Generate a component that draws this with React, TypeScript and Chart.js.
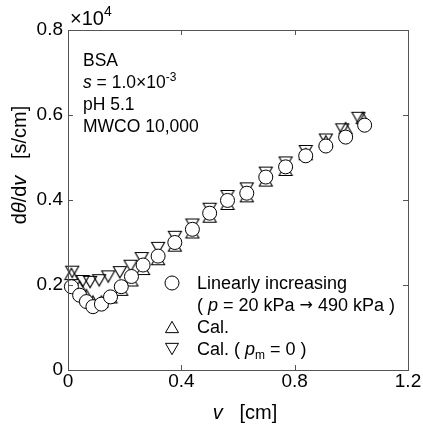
import React, { useEffect, useRef } from 'react';
import { Chart, registerables } from 'chart.js';

Chart.register(...registerables);

// ---- data ----
const xTicks = [0, 0.4, 0.8, 1.2];
const xTickLabels = ['0', '0.4', '0.8', '1.2'];
const yTicks = [0, 0.2, 0.4, 0.6, 0.8];
const yTickLabels = ['0', '0.2', '0.4', '0.6', '0.8'];

// Linearly increasing (experiment), v [cm] and dθ/dv [×10^4 s/cm]
const expV = [0.012, 0.041, 0.065, 0.088, 0.118, 0.150, 0.188, 0.224, 0.265, 0.318, 0.377, 0.439, 0.500, 0.563, 0.631, 0.698, 0.768, 0.839, 0.910, 0.980, 1.047];
const expRate = [0.196, 0.176, 0.161, 0.149, 0.155, 0.172, 0.196, 0.220, 0.247, 0.268, 0.300, 0.331, 0.369, 0.399, 0.416, 0.454, 0.478, 0.504, 0.527, 0.548, 0.576];

// Cal.
const calV = [0.012, 0.041, 0.065, 0.088, 0.118, 0.150, 0.188, 0.224, 0.265, 0.318, 0.377, 0.439, 0.500, 0.563, 0.631, 0.698, 0.768, 0.839, 0.910, 0.980, 1.040];
const calRate = [0.235, 0.205, 0.185, 0.170, 0.170, 0.180, 0.198, 0.220, 0.247, 0.270, 0.302, 0.333, 0.370, 0.400, 0.418, 0.455, 0.480, 0.517, 0.547, 0.578, 0.602];

// Cal. (pm = 0)
const calPm0V = [0.015, 0.052, 0.078, 0.110, 0.142, 0.183, 0.221, 0.260, 0.318, 0.377, 0.439, 0.500, 0.563, 0.631, 0.698, 0.768, 0.839, 0.910, 0.968, 1.025];
const calPm0Rate = [0.222, 0.200, 0.198, 0.202, 0.211, 0.221, 0.236, 0.254, 0.278, 0.304, 0.333, 0.370, 0.400, 0.418, 0.455, 0.479, 0.506, 0.533, 0.557, 0.584];

const FONT = '"Liberation Sans", Arial, sans-serif';
const ARROW_FONT = '"DejaVu Sans", sans-serif';
const FRAME = '#555';

type Seg = { t: string; it?: boolean; sz: number; dy?: number; fam?: string };

function segFont(s: Seg) {
  return `${s.it ? 'italic ' : ''}${s.sz}px ${s.fam || FONT}`;
}

function richWidth(ctx: CanvasRenderingContext2D, segs: Seg[]) {
  let w = 0;
  for (const s of segs) {
    ctx.font = segFont(s);
    w += ctx.measureText(s.t).width;
  }
  return w;
}

function drawRich(ctx: CanvasRenderingContext2D, x: number, y: number, segs: Seg[], align: 'left' | 'center' = 'left') {
  let cx = x;
  if (align === 'center') cx = x - richWidth(ctx, segs) / 2;
  ctx.textAlign = 'left';
  ctx.textBaseline = 'alphabetic';
  ctx.fillStyle = '#000';
  for (const s of segs) {
    ctx.font = segFont(s);
    ctx.fillText(s.t, cx, y + (s.dy || 0));
    cx += ctx.measureText(s.t).width;
  }
}

function makeTri(down: boolean): HTMLCanvasElement {
  const c = document.createElement('canvas');
  c.width = 16;
  c.height = 24;
  const g = c.getContext('2d')!;
  g.strokeStyle = '#000';
  g.lineWidth = 1.1;
  const cx = 8;
  const cy = 12;
  const half = 6.5;
  const h = 11.3;
  g.beginPath();
  if (down) {
    const by = cy - 10 + 0.5;
    g.moveTo(cx - half, by);
    g.lineTo(cx + half, by);
    g.lineTo(cx, by + h);
  } else {
    const by = cy + 10 - 0.5;
    g.moveTo(cx - half, by);
    g.lineTo(cx + half, by);
    g.lineTo(cx, by - h);
  }
  g.closePath();
  g.stroke();
  return c;
}

function legendTri(ctx: CanvasRenderingContext2D, x: number, y: number, down: boolean) {
  const half = 6.5;
  const h = 11.3;
  ctx.beginPath();
  if (down) {
    ctx.moveTo(x - half, y - h / 2);
    ctx.lineTo(x + half, y - h / 2);
    ctx.lineTo(x, y + h / 2);
  } else {
    ctx.moveTo(x - half, y + h / 2);
    ctx.lineTo(x + half, y + h / 2);
    ctx.lineTo(x, y - h / 2);
  }
  ctx.closePath();
  ctx.stroke();
}

const decor = {
  id: 'decor',
  afterDraw(chart: any) {
    const ctx: CanvasRenderingContext2D = chart.ctx;
    const { left, right, top, bottom } = chart.chartArea;
    const xs = chart.scales.x;
    const ys = chart.scales.y;
    ctx.save();
    // frame
    ctx.strokeStyle = FRAME;
    ctx.lineWidth = 1;
    ctx.strokeRect(Math.round(left) + 0.5, Math.round(top) + 0.5, Math.round(right - left), Math.round(bottom - top));
    // inner ticks
    const tl = 5;
    ctx.beginPath();
    xTicks.forEach((v, i) => {
      if (i === 0 || i === xTicks.length - 1) return;
      const px = Math.round(xs.getPixelForValue(v)) + 0.5;
      ctx.moveTo(px, bottom);
      ctx.lineTo(px, bottom - tl);
      ctx.moveTo(px, top);
      ctx.lineTo(px, top + tl);
    });
    yTicks.forEach((v, i) => {
      if (i === 0 || i === yTicks.length - 1) return;
      const py = Math.round(ys.getPixelForValue(v)) + 0.5;
      ctx.moveTo(left, py);
      ctx.lineTo(left + tl, py);
      ctx.moveTo(right, py);
      ctx.lineTo(right - tl, py);
    });
    ctx.stroke();

    // ×10^4
    drawRich(ctx, 70, 25, [
      { t: '×10', sz: 20 },
      { t: '4', sz: 14, dy: -9 },
    ]);

    // condition annotation
    const ax = 83;
    drawRich(ctx, ax, 66, [{ t: 'BSA', sz: 17.5 }]);
    drawRich(ctx, ax, 88, [
      { t: 's', it: true, sz: 17.5 },
      { t: ' = 1.0×10', sz: 17.5 },
      { t: '-3', sz: 12, dy: -7 },
    ]);
    drawRich(ctx, ax, 110, [{ t: 'pH 5.1', sz: 17.5 }]);
    drawRich(ctx, ax, 132, [{ t: 'MWCO 10,000', sz: 17.5 }]);

    // legend
    const mx = 172;
    const tx = 197;
    ctx.strokeStyle = '#000';
    ctx.lineWidth = 1;
    ctx.fillStyle = '#fff';
    ctx.beginPath();
    ctx.arc(mx, 283, 7, 0, Math.PI * 2);
    ctx.fill();
    ctx.stroke();
    legendTri(ctx, mx, 327, false);
    legendTri(ctx, mx, 349, true);
    drawRich(ctx, tx, 289, [{ t: 'Linearly increasing', sz: 18 }]);
    drawRich(ctx, tx, 311, [
      { t: '( ', sz: 18 },
      { t: 'p', it: true, sz: 18 },
      { t: ' = 20 kPa ', sz: 18 },
      { t: '\u2192', sz: 16, fam: ARROW_FONT, dy: -1 },
      { t: ' 490 kPa )', sz: 18 },
    ]);
    drawRich(ctx, tx, 333, [{ t: 'Cal.', sz: 18 }]);
    drawRich(ctx, tx, 355, [
      { t: 'Cal. ( ', sz: 18 },
      { t: 'p', it: true, sz: 18 },
      { t: 'm', sz: 12, dy: 4 },
      { t: ' = 0 )', sz: 18 },
    ]);

    // x axis title
    drawRich(ctx, 245, 419, [
      { t: 'v', it: true, sz: 20 },
      { t: '   [cm]', sz: 20 },
    ], 'center');

    // y axis title (rotated)
    ctx.save();
    ctx.translate(26, 165);
    ctx.rotate(-Math.PI / 2);
    drawRich(ctx, 0, 0, [
      { t: 'd', sz: 20 },
      { t: 'θ', it: true, sz: 20 },
      { t: '/d', sz: 20 },
      { t: 'v', it: true, sz: 20 },
      { t: '   [s/cm]', sz: 20 },
    ], 'center');
    ctx.restore();

    ctx.restore();
  },
};

export default function App() {
  const ref = useRef<HTMLCanvasElement>(null);
  useEffect(() => {
    const canvas = ref.current!;
    const down = makeTri(true);
    const up = makeTri(false);
    const chart = new Chart(canvas, {
      type: 'scatter',
      data: {
        datasets: [
          {
            label: 'Linearly increasing',
            data: expV.map((v, i) => ({ x: v, y: expRate[i] })),
            pointStyle: 'circle',
            pointRadius: 7,
            pointBackgroundColor: '#fff',
            pointBorderColor: '#000',
            pointBorderWidth: 1,
            clip: false,
          } as any,
          {
            label: 'Cal.',
            data: calV.map((v, i) => ({ x: v, y: calRate[i] })),
            pointStyle: up,
            pointRadius: 8,
            clip: false,
          } as any,
          {
            label: 'Cal. (pm = 0)',
            data: calPm0V.map((v, i) => ({ x: v, y: calPm0Rate[i] })),
            pointStyle: down,
            pointRadius: 8,
            clip: false,
          } as any,
        ],
      },
      options: {
        animation: false,
        responsive: false,
        events: [],
        layout: { padding: { top: 30, right: 15, left: 0, bottom: 0 } },
        plugins: { legend: { display: false }, tooltip: { enabled: false } },
        scales: {
          x: {
            type: 'linear',
            min: 0,
            max: 1.2,
            afterBuildTicks: (s: any) => {
              s.ticks = xTicks.map((v) => ({ value: v }));
            },
            afterFit: (s: any) => {
              s.height = 55;
            },
            grid: { display: false, drawTicks: false },
            border: { display: false },
            ticks: {
              padding: 0,
              color: '#000',
              font: { family: FONT, size: 19 },
              maxRotation: 0,
              autoSkip: false,
              callback: (_v: any, i: number) => xTickLabels[i],
            },
          },
          y: {
            type: 'linear',
            min: 0,
            max: 0.8,
            afterBuildTicks: (s: any) => {
              s.ticks = yTicks.map((v) => ({ value: v }));
            },
            afterFit: (s: any) => {
              s.width = 68;
            },
            grid: { display: false, drawTicks: false },
            border: { display: false },
            ticks: {
              padding: 5,
              color: '#000',
              font: { family: FONT, size: 19 },
              autoSkip: false,
              callback: (_v: any, i: number) => yTickLabels[i],
            },
          },
        },
      } as any,
      plugins: [decor],
    });
    return () => chart.destroy();
  }, []);
  return (
    <div style={{ position: 'absolute', left: 0, top: 0, width: 423, height: 425, background: '#fff' }}>
      <canvas ref={ref} width={423} height={425} style={{ width: 423, height: 425, display: 'block' }} />
    </div>
  );
}
